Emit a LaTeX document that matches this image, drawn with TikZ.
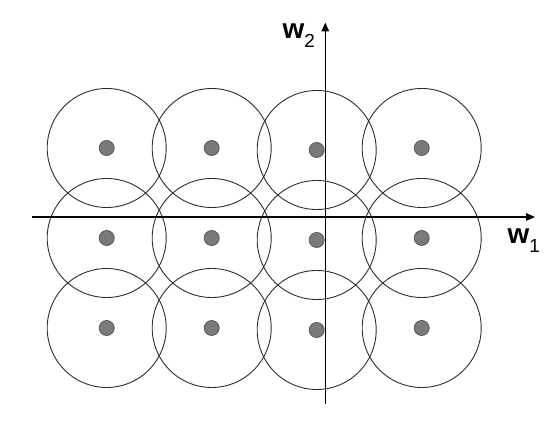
\documentclass[tikz,border=0pt]{standalone}
\usepackage{fontspec}
\setmainfont{Liberation Sans}
\usepackage{tikz}
\usetikzlibrary{arrows.meta,positioning}
\definecolor{dotgray}{RGB}{122,122,122}
\definecolor{ringgray}{RGB}{45,45,45}

\tikzset{
  ring/.style={draw=ringgray, line width=0.9bp, circle, minimum size=119bp, inner sep=0pt},
  centre/.style={draw=ringgray!80, fill=dotgray, line width=0.8bp, circle, minimum size=15bp, inner sep=0pt},
  axis/.style={line width=1.3bp, -{Triangle[length=9bp, width=7.5bp]}},
  axislabel/.style={inner sep=0pt, anchor=base west, font=\fontsize{28}{28}\selectfont\bfseries}
}

\begin{document}
\begin{tikzpicture}[x=1bp, y=1bp]
  \useasboundingbox (0,0) rectangle (557,441);

  % axes
  \coordinate (O1) at (32,224);
  \coordinate (E1) at (535,224);
  \coordinate (O2) at (325.3,37);
  \coordinate (E2) at (325.3,418.5);

  % rings with their centres (third column sits a bit lower)
  \foreach \c/\x in {1/106.7, 2/211.7, 3/316.7, 4/421.7}{
    \foreach \r/\y in {1/293, 2/203, 3/113}{
      \pgfmathsetmacro{\dy}{\c==3 ? -2 : 0}
      \node[ring] (R\c\r) at (\x,\y+\dy) {};
      \node[centre] (P\c\r) at (R\c\r.center) {};
    }
  }

  \draw[axis] (O1) -- (E1);
  \draw[axis] (O2) -- (E2);

  \node[axislabel] (W2) at (282.5,402.5)
    {w\raisebox{-9bp}{\fontsize{19}{19}\mdseries 2}};
  \node[axislabel] (W1) at (507.5,197.5)
    {w\raisebox{-9bp}{\fontsize{19}{19}\mdseries 1}};
\end{tikzpicture}
\end{document}
